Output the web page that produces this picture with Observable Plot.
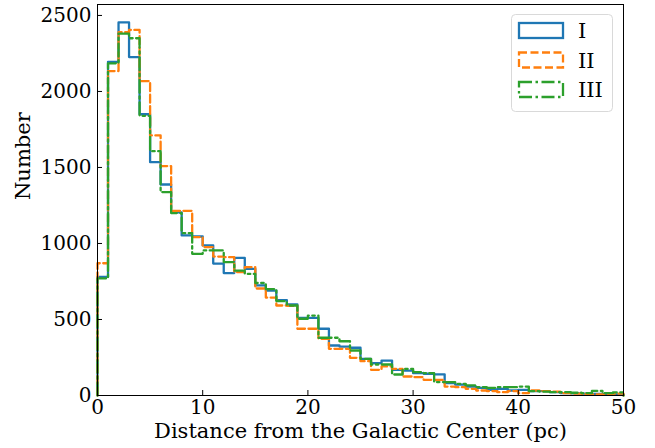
<!DOCTYPE html>
<html><head><meta charset="utf-8">
<script src="https://cdn.jsdelivr.net/npm/d3@7"></script>
<script src="https://cdn.jsdelivr.net/npm/@observablehq/plot@0.6"></script>
<style>body{margin:0;background:#fff} #chart{width:655px;height:448px}</style>
</head><body><div id="chart"></div>
<script>
// Histogram counts per 1-pc bin, 0–50 pc
const binWidth = 1;
const seriesNames = ["I", "II", "III"];
const seriesColors = ["#1f77b4", "#ff7f0e", "#2ca02c"];
const seriesDash = [null, "8,3.5", "13,3.5,2.5,3.5"];
const countsI = [780,2195,2454,2226,1850,1535,1388,1205,1053,1046,987,868,805,905,833,724,690,628,600,511,511,439,329,322,314,241,213,230,169,164,147,143,139,81,72,59,50,37,44,33,37,29,29,22,15,14,12,10,9,8];
const countsII = [870,2134,2390,2405,2068,1711,1509,1215,1215,1042,976,914,910,811,844,704,644,592,589,439,439,373,307,307,248,226,169,191,175,125,121,103,103,59,55,44,33,29,22,29,15,33,29,26,15,12,10,8,6,12];
const countsIII = [770,2185,2380,2350,1840,1607,1338,1200,1068,932,954,954,877,822,800,740,700,621,592,505,526,380,380,357,296,241,204,204,138,175,154,147,88,88,77,66,55,50,55,55,59,29,26,22,22,18,15,30,15,20];
const xTicks = [0,10,20,30,40,50];
const yTicks = [0,500,1000,1500,2000,2500];
const xLabel = "Distance from the Galactic Center (pc)";
const yLabel = "Number";

function stepData(vals, name) {
  const pts = [{x: 0, y: 0, s: name}];
  vals.forEach((v, i) => pts.push({x: i * binWidth, y: v, s: name}));
  const end = vals.length * binWidth;
  pts.push({x: end, y: vals[vals.length - 1], s: name});
  pts.push({x: end, y: 0, s: name});
  return pts;
}
const allSeries = [countsI, countsII, countsIII];

const lineMarks = allSeries.map((vals, k) => Plot.line(stepData(vals, seriesNames[k]), {
  x: "x", y: "y", curve: "step-after", stroke: seriesColors[k], strokeWidth: 2.3,
  strokeDasharray: seriesDash[k]
}));

const plot = Plot.plot({
  width: 655, height: 448,
  marginLeft: 97, marginRight: 32, marginTop: 4, marginBottom: 53,
  style: {fontFamily: "DejaVu Serif", fontSize: "20px", background: "white", color: "black"},
  x: {domain: [0, 50]},
  y: {domain: [0, 2572]},
  marks: [
    ...lineMarks,
    Plot.frame({stroke: "black", strokeWidth: 1}),
    Plot.axisX({ticks: xTicks, tickSize: 0, tickPadding: 4, label: null, fontSize: 20, tickFormat: d3.format("d")}),
    Plot.axisX({ticks: xTicks, tickSize: -5, tickFormat: () => "", label: null}),
    Plot.axisY({ticks: yTicks, tickSize: 0, tickPadding: 6, label: null, fontSize: 20, tickFormat: d3.format("d")}),
    Plot.axisY({ticks: yTicks, tickSize: -5, tickFormat: () => "", label: null}),
    Plot.text([xLabel], {frameAnchor: "bottom", dy: 36, fontSize: 21, lineAnchor: "middle"}),
    Plot.text([yLabel], {frameAnchor: "left", dx: -74, rotate: -90, fontSize: 21, lineAnchor: "middle"})
  ]
});
document.getElementById("chart").appendChild(plot);

// Legend (inside upper right)
const svg = d3.select(plot);
const lg = svg.append("g");
lg.append("rect").attr("x", 511.5).attr("y", 14.5).attr("width", 101).attr("height", 97)
  .attr("rx", 4).attr("fill", "white").attr("fill-opacity", 0.8).attr("stroke", "#d9d9d9");
seriesNames.forEach((name, k) => {
  const y0 = 23 + k * 29.5;
  lg.append("rect").attr("x", 519).attr("y", y0).attr("width", 44).attr("height", 15)
    .attr("fill", "none").attr("stroke", seriesColors[k]).attr("stroke-width", 2.3)
    .attr("stroke-dasharray", seriesDash[k]);
  lg.append("text").attr("x", 578).attr("y", y0 + 15).text(name)
    .style("fill", "black").style("text-anchor", "start")
    .style("font-family", "DejaVu Serif").style("font-size", "21px");
});
</script></body></html>
